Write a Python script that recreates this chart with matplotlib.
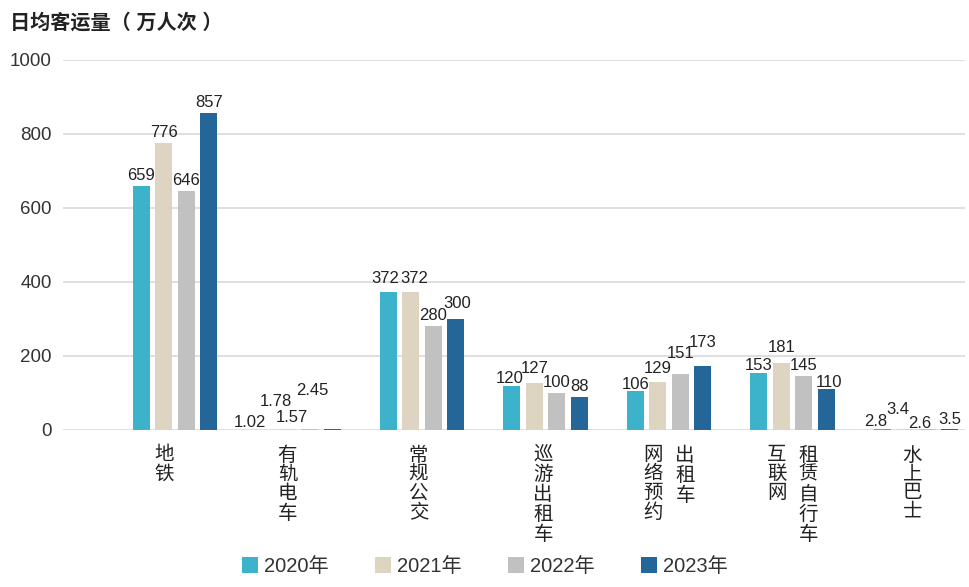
import matplotlib
matplotlib.use("Agg")
import matplotlib.pyplot as plt
import numpy as np

plt.rcParams['font.family'] = ['Liberation Sans', 'Noto Sans CJK SC', 'DejaVu Sans']

# data
categories = [["地铁"], ["有轨电车"], ["常规公交"], ["巡游出租车"],
              ["网络预约", "出租车"], ["互联网", "租赁自行车"], ["水上巴士"]]
years = ["2020年", "2021年", "2022年", "2023年"]
v2020 = [659, 1.02, 372, 120, 106, 153, 2.8]
v2021 = [776, 1.78, 372, 127, 129, 181, 3.4]
v2022 = [646, 1.57, 280, 100, 151, 145, 2.6]
v2023 = [857, 2.45, 300, 88, 173, 110, 3.5]
series = [v2020, v2021, v2022, v2023]

colors = ["#3cb2cb", "#ddd5c1", "#c1c1c1", "#246698"]

# label nudges in pixels (category, series): (dx, dy) to avoid overlaps
nudge = {
    (1, 0): (-15, -3), (1, 1): (-11, 17), (1, 2): (-18, 1), (1, 3): (-20, 28),
    (6, 0): (-7, -3), (6, 1): (-7, 9), (6, 2): (-8, -5), (6, 3): (0, -1),
    (2, 0): (-3, 3), (2, 1): (3, 3), (2, 3): (1, 5),
    (3, 0): (-2, -3), (3, 1): (0, 4),
    (4, 0): (0, -4), (4, 1): (0, 3), (4, 2): (0, 10), (4, 3): (0, 13),
    (5, 0): (0, -3), (5, 1): (0, 5), (5, 3): (3, -4),
}

fig = plt.figure(figsize=(9.7, 5.87), dpi=100)
ax = fig.add_axes([0.065, 0.2675, 0.93, 0.6305])

x = np.arange(len(categories))
width = 0.138
step = 0.182

for k, vals in enumerate(series):
    pos = x + (k - 1.5) * step
    ax.bar(pos, vals, width, color=colors[k], label=years[k], zorder=3)
    for i, v in enumerate(vals):
        dx, dy = nudge.get((i, k), (0, 0))
        ax.annotate(f"{v:g}", (pos[i], v), xytext=(dx, 3 + dy),
                    textcoords="offset pixels", ha="center", va="bottom",
                    fontsize=12, color="#222222", zorder=4)

ax.set_xlim(-0.907, 6.397)
ax.set_ylim(0, 1000)
ax.set_yticks(range(0, 1001, 200))
ax.yaxis.grid(True, color="#d9d9d9", linewidth=1.2, zorder=0)
ax.set_xticks([])
for s in ax.spines.values():
    s.set_visible(False)
ax.tick_params(axis="y", length=0, labelsize=13.5, labelcolor="#333333", pad=8)

# vertical category labels (one or two columns)
label_shift = [-0.09, -0.09, -0.03, -0.02, 0, 0, -0.03]
for i, cols in enumerate(categories):
    n = len(cols)
    for j, txt in enumerate(cols):
        off = 0 if n == 1 else (j - 0.5) * 0.26
        ax.text(i + label_shift[i] + off, -0.045, "\n".join(txt),
                transform=ax.get_xaxis_transform(), ha="center", va="top",
                fontsize=14, linespacing=1.12, color="#222222")

fig.text(0.01, 0.962, "日均客运量（ 万人次 ）", fontsize=14.5, fontweight="bold",
         color="#222222", va="center")

fig.legend(loc="lower center", bbox_to_anchor=(0.5, -0.012), ncol=4,
           frameon=False, fontsize=14.5, handlelength=0.8, handleheight=0.8,
           handletextpad=0.3, columnspacing=2.3, labelcolor="#333333")

fig.savefig("out.png", dpi=100)
